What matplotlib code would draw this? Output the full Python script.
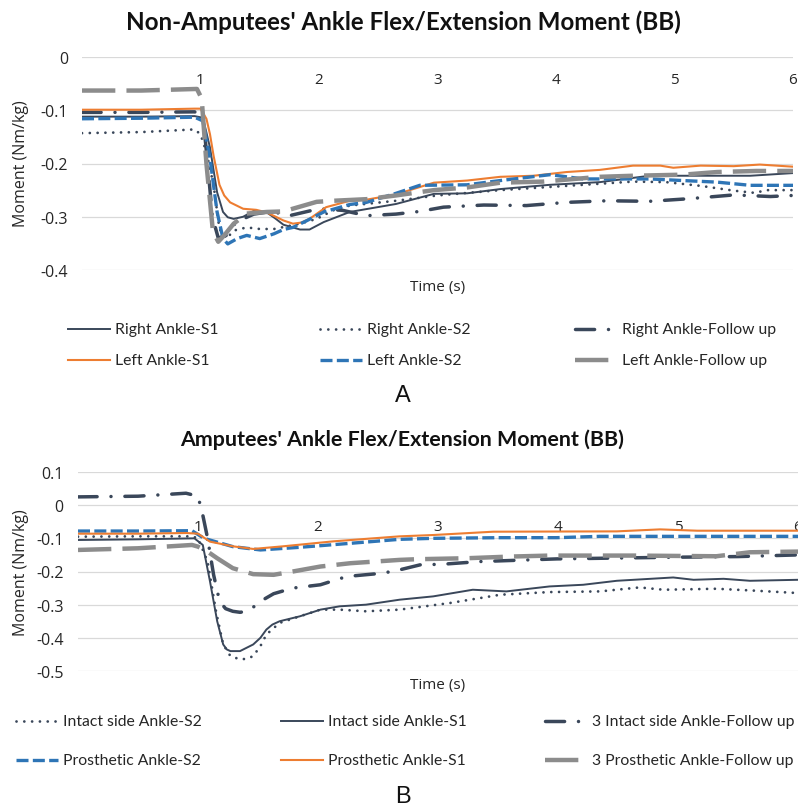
import matplotlib
matplotlib.use("Agg")
import matplotlib.pyplot as plt
from matplotlib.lines import Line2D
from matplotlib.ticker import FuncFormatter, FixedLocator

# ---------------- data: non-amputees (panel A) ----------------
t_right_s1 = [0, 0.5, 0.95, 1.02, 1.08, 1.14, 1.19, 1.23, 1.28, 1.36, 1.45, 1.56, 1.63, 1.70,
              1.84, 1.92, 2.04, 2.26, 2.65, 2.97, 3.25, 3.53, 3.95, 4.37, 4.79, 5.22, 5.64, 6.0]
v_right_s1 = [-0.112, -0.112, -0.111, -0.114, -0.170, -0.254, -0.291, -0.301, -0.304, -0.300,
              -0.289, -0.292, -0.303, -0.315, -0.324, -0.324, -0.310, -0.291, -0.276, -0.257,
              -0.256, -0.248, -0.240, -0.235, -0.223, -0.223, -0.223, -0.218]

t_right_s2 = [0, 0.5, 0.95, 1.0, 1.05, 1.11, 1.16, 1.22, 1.28, 1.39, 1.50, 1.62, 1.73, 1.84,
              1.98, 2.12, 2.26, 2.65, 3.0, 3.53, 4.09, 4.65, 4.93, 5.22, 5.5, 5.67, 5.79, 6.0]
v_right_s2 = [-0.143, -0.141, -0.136, -0.145, -0.179, -0.240, -0.323, -0.341, -0.326, -0.320,
              -0.323, -0.323, -0.318, -0.313, -0.304, -0.288, -0.279, -0.270, -0.260, -0.250,
              -0.242, -0.234, -0.235, -0.242, -0.251, -0.255, -0.250, -0.250]

t_right_fu = [0, 0.5, 0.95, 1.02, 1.06, 1.10, 1.15, 1.22, 1.30, 1.45, 1.6, 1.75, 2.0, 2.2, 2.4,
              2.65, 2.85, 3.05, 3.39, 3.75, 4.09, 4.43, 4.79, 5.13, 5.5, 5.81, 6.0]
v_right_fu = [-0.104, -0.104, -0.103, -0.110, -0.200, -0.300, -0.340, -0.335, -0.310, -0.295,
              -0.290, -0.298, -0.285, -0.288, -0.298, -0.295, -0.290, -0.282, -0.278, -0.279,
              -0.273, -0.270, -0.271, -0.266, -0.259, -0.262, -0.260]

t_left_s1 = [0, 0.5, 0.95, 1.0, 1.05, 1.08, 1.11, 1.16, 1.20, 1.25, 1.36, 1.47, 1.56, 1.70,
             1.78, 1.85, 1.92, 2.06, 2.26, 2.40, 2.65, 2.97, 3.25, 3.53, 3.81, 4.09, 4.37, 4.65,
             4.88, 4.99, 5.22, 5.5, 5.72, 6.0]
v_left_s1 = [-0.099, -0.099, -0.097, -0.097, -0.116, -0.145, -0.185, -0.240, -0.260, -0.273,
             -0.285, -0.287, -0.292, -0.307, -0.313, -0.311, -0.304, -0.282, -0.270, -0.268,
             -0.258, -0.236, -0.232, -0.225, -0.223, -0.216, -0.212, -0.204, -0.204, -0.208,
             -0.204, -0.205, -0.202, -0.206]

t_left_s2 = [0, 0.5, 0.95, 1.02, 1.08, 1.14, 1.19, 1.23, 1.31, 1.39, 1.50, 1.62, 1.70, 1.78,
             1.90, 2.04, 2.26, 2.40, 2.65, 2.85, 3.25, 3.53, 3.95, 4.23, 4.51, 4.79, 5.07, 5.36,
             5.64, 6.0]
v_left_s2 = [-0.116, -0.115, -0.113, -0.120, -0.190, -0.291, -0.341, -0.351, -0.341, -0.335,
             -0.341, -0.332, -0.324, -0.320, -0.307, -0.291, -0.277, -0.273, -0.256, -0.241,
             -0.240, -0.232, -0.221, -0.229, -0.229, -0.229, -0.232, -0.235, -0.241, -0.241]

t_left_fu = [0, 0.5, 0.97, 1.01, 1.05, 1.105, 1.15, 1.2, 1.28, 1.39, 1.56, 1.70, 1.98, 2.12,
             2.4, 2.65, 2.97, 3.25, 3.53, 3.89, 4.37, 4.65, 5.07, 5.36, 5.69, 6.0]
v_left_fu = [-0.063, -0.063, -0.060, -0.078, -0.200, -0.328, -0.347, -0.335, -0.313, -0.294,
             -0.291, -0.290, -0.272, -0.270, -0.267, -0.260, -0.250, -0.245, -0.236, -0.234,
             -0.225, -0.223, -0.221, -0.216, -0.214, -0.214]

# ---------------- data: amputees (panel B) ----------------
t_intact_s2 = [0, 0.5, 0.95, 1.0, 1.08, 1.15, 1.21, 1.27, 1.35, 1.41, 1.46, 1.52, 1.57, 1.68,
               1.85, 2.02, 2.18, 2.4, 2.68, 3.1, 3.52, 3.93, 4.35, 4.68, 4.88, 5.32, 5.6, 6.0]
v_intact_s2 = [-0.095, -0.094, -0.094, -0.100, -0.170, -0.320, -0.420, -0.455, -0.465, -0.463,
               -0.455, -0.425, -0.390, -0.355, -0.335, -0.315, -0.315, -0.320, -0.315, -0.295,
               -0.270, -0.262, -0.260, -0.248, -0.255, -0.252, -0.257, -0.265]

t_intact_s1 = [0, 0.5, 0.97, 1.04, 1.1, 1.16, 1.21, 1.24, 1.27, 1.35, 1.46, 1.52, 1.57, 1.62,
               1.68, 1.85, 2.02, 2.18, 2.4, 2.68, 2.96, 3.29, 3.57, 3.93, 4.21, 4.49, 4.96, 5.13,
               5.38, 5.6, 6.0]
v_intact_s1 = [-0.105, -0.103, -0.100, -0.120, -0.230, -0.350, -0.420, -0.435, -0.440, -0.440,
               -0.420, -0.400, -0.375, -0.360, -0.350, -0.335, -0.315, -0.305, -0.300, -0.285,
               -0.275, -0.255, -0.260, -0.245, -0.240, -0.228, -0.218, -0.225, -0.222, -0.228,
               -0.225]

t_intact_fu = [0, 0.5, 0.9, 1.0, 1.04, 1.08, 1.13, 1.18, 1.23, 1.29, 1.35, 1.41, 1.47, 1.52,
               1.63, 1.79, 2.02, 2.24, 2.54, 2.68, 2.85, 3.04, 3.35, 3.99, 4.96, 5.5, 6.0]
v_intact_fu = [0.025, 0.027, 0.036, 0.027, -0.030, -0.100, -0.210, -0.290, -0.312, -0.320,
               -0.323, -0.320, -0.305, -0.290, -0.267, -0.250, -0.240, -0.215, -0.205, -0.195,
               -0.180, -0.178, -0.170, -0.162, -0.157, -0.155, -0.150]

t_pros_s2 = [0, 0.5, 0.95, 1.05, 1.29, 1.52, 1.85, 2.27, 2.68, 2.96, 3.52, 3.99, 4.35, 6.0]
v_pros_s2 = [-0.078, -0.078, -0.077, -0.100, -0.125, -0.135, -0.127, -0.115, -0.103, -0.100,
             -0.098, -0.098, -0.094, -0.094]

t_pros_s1 = [0, 0.5, 0.9, 1.0, 1.1, 1.29, 1.46, 1.71, 2.13, 2.68, 2.96, 3.46, 4.49, 4.85, 5.16, 6.0]
v_pros_s1 = [-0.086, -0.086, -0.084, -0.086, -0.110, -0.124, -0.132, -0.124, -0.109, -0.094,
             -0.090, -0.080, -0.079, -0.073, -0.077, -0.077]

t_pros_fu = [0, 0.5, 0.95, 1.0, 1.08, 1.16, 1.29, 1.46, 1.63, 1.79, 2.02, 2.27, 2.68, 2.82,
             3.24, 3.6, 3.93, 4.63, 5.32, 5.6, 6.0]
v_pros_fu = [-0.135, -0.130, -0.120, -0.125, -0.140, -0.160, -0.190, -0.208, -0.210, -0.200,
             -0.185, -0.175, -0.165, -0.163, -0.160, -0.155, -0.152, -0.152, -0.154, -0.142,
             -0.140]

x_ticks = [1, 2, 3, 4, 5, 6]
y_ticks_a = [0, -0.1, -0.2, -0.3, -0.4]
y_ticks_b = [0.1, 0, -0.1, -0.2, -0.3, -0.4, -0.5]

# ---------------- styles ----------------
NAVY = "#3A475A"
ORANGE = "#ED7D31"
BLUE = "#2E75B6"
GRAY = "#8C8C8C"

SOLID_NAVY = dict(color=NAVY, lw=1.4, ls="-")
DOT_NAVY = dict(color=NAVY, lw=2.0, ls=(0, (0.01, 2.8)), dash_capstyle="round")
DASHDOT_NAVY = dict(color=NAVY, lw=2.5, ls=(0, (5.5, 4.0, 0.01, 4.0)), dash_capstyle="round")
SOLID_ORANGE = dict(color=ORANGE, lw=1.5, ls="-")
DASH_BLUE = dict(color=BLUE, lw=2.4, ls=(0, (3.6, 1.3)))
LONGDASH_GRAY = dict(color=GRAY, lw=3.2, ls=(0, (7.5, 2.5)))

TICK_FONT = "Open Sans"
LEGEND_FONT = "Lato"
TEXT_COLOR = "#262626"

W, H = 798, 812
fig = plt.figure(figsize=(W / 100, H / 100), dpi=100)


def fx(px):
    return px / W


def fy(py):
    return 1 - py / H


def style_axes(ax, ylim, yticks, xpad, ypad):
    ax.set_xlim(0, 6)
    ax.set_ylim(*ylim)
    ax.set_axisbelow(True)
    for s in ["top", "right", "left"]:
        ax.spines[s].set_visible(False)
    ax.spines["bottom"].set_position(("data", 0))
    ax.spines["bottom"].set_visible(False)
    ax.xaxis.set_major_locator(FixedLocator(x_ticks))
    ax.yaxis.set_major_locator(FixedLocator(yticks))
    ax.yaxis.set_major_formatter(FuncFormatter(lambda v, p: f"{round(v, 1):g}"))
    ax.grid(axis="y", color="#D9D9D9", lw=0.9)
    ax.tick_params(axis="x", length=0, pad=xpad, labelsize=11, labelcolor=TEXT_COLOR)
    ax.tick_params(axis="y", length=0, pad=ypad, labelsize=11.5, labelcolor=TEXT_COLOR)
    for lab in ax.get_xticklabels() + ax.get_yticklabels():
        lab.set_fontfamily(TICK_FONT)


def legend_entry(x_handle, y, label, style):
    line = Line2D([fx(x_handle), fx(x_handle + 42)], [fy(y), fy(y)],
                  transform=fig.transFigure, **style)
    fig.add_artist(line)
    fig.text(fx(x_handle + 47), fy(y), label, ha="left", va="center",
             fontsize=11.3, family=LEGEND_FONT, color=TEXT_COLOR)


# ---------------- panel A ----------------
ax1 = fig.add_axes([fx(82), fy(271), fx(793) - fx(82), fy(58) - fy(271)])
ax1.plot(t_right_s1, v_right_s1, **SOLID_NAVY)
ax1.plot(t_right_s2, v_right_s2, **DOT_NAVY)
ax1.plot(t_right_fu, v_right_fu, **DASHDOT_NAVY)
ax1.plot(t_left_s1, v_left_s1, **SOLID_ORANGE)
ax1.plot(t_left_s2, v_left_s2, **DASH_BLUE)
ax1.plot(t_left_fu, v_left_fu, **LONGDASH_GRAY)
style_axes(ax1, (-0.4, 0), y_ticks_a, xpad=11, ypad=10)

fig.text(fx(403), fy(22), "Non-Amputees' Ankle Flex/Extension Moment (BB)", ha="center",
         va="center", fontsize=17.4, fontweight="bold", family=LEGEND_FONT, color="#111111")
fig.text(fx(21), fy(164), "Moment (Nm/kg)", rotation=90, ha="center", va="center",
         fontsize=11.5, family=TICK_FONT, color=TEXT_COLOR)
fig.text(fx(438), fy(287), "Time (s)", ha="center", va="center",
         fontsize=11, family=TICK_FONT, color=TEXT_COLOR)

legend_entry(68, 330, "Right Ankle-S1", SOLID_NAVY)
legend_entry(68, 361, "Left Ankle-S1", SOLID_ORANGE)
legend_entry(320, 330, "Right Ankle-S2", DOT_NAVY)
legend_entry(320, 361, "Left Ankle-S2", DASH_BLUE)
legend_entry(575, 330, "Right Ankle-Follow up", DASHDOT_NAVY)
legend_entry(575, 361, "Left Ankle-Follow up", LONGDASH_GRAY)

fig.text(fx(403), fy(396), "A", ha="center", va="center", fontsize=17,
         family="Liberation Sans", color="#111111")

# ---------------- panel B ----------------
ax2 = fig.add_axes([fx(78), fy(672), fx(798) - fx(78), fy(473) - fy(672)])
ax2.plot(t_intact_s2, v_intact_s2, **DOT_NAVY)
ax2.plot(t_intact_s1, v_intact_s1, **SOLID_NAVY)
ax2.plot(t_intact_fu, v_intact_fu, **DASHDOT_NAVY)
ax2.plot(t_pros_s2, v_pros_s2, **DASH_BLUE)
ax2.plot(t_pros_s1, v_pros_s1, **SOLID_ORANGE)
ax2.plot(t_pros_fu, v_pros_fu, **LONGDASH_GRAY)
style_axes(ax2, (-0.5, 0.1), y_ticks_b, xpad=10, ypad=10.5)

fig.text(fx(402), fy(440), "Amputees' Ankle Flex/Extension Moment (BB)", ha="center",
         va="center", fontsize=15.4, fontweight="bold", family=LEGEND_FONT, color="#111111")
fig.text(fx(21), fy(573), "Moment (Nm/kg)", rotation=90, ha="center", va="center",
         fontsize=11.5, family=TICK_FONT, color=TEXT_COLOR)
fig.text(fx(438), fy(686), "Time (s)", ha="center", va="center",
         fontsize=11, family=TICK_FONT, color=TEXT_COLOR)

legend_entry(16, 722, "Intact side Ankle-S2", DOT_NAVY)
legend_entry(16, 761, "Prosthetic Ankle-S2", DASH_BLUE)
legend_entry(281, 722, "Intact side Ankle-S1", SOLID_NAVY)
legend_entry(281, 761, "Prosthetic Ankle-S1", SOLID_ORANGE)
legend_entry(545, 722, "3 Intact side Ankle-Follow up", DASHDOT_NAVY)
legend_entry(545, 761, "3 Prosthetic Ankle-Follow up", LONGDASH_GRAY)

fig.text(fx(403), fy(797), "B", ha="center", va="center", fontsize=17,
         family="Liberation Sans", color="#111111")

fig.savefig("out.png", dpi=100, facecolor="white")
